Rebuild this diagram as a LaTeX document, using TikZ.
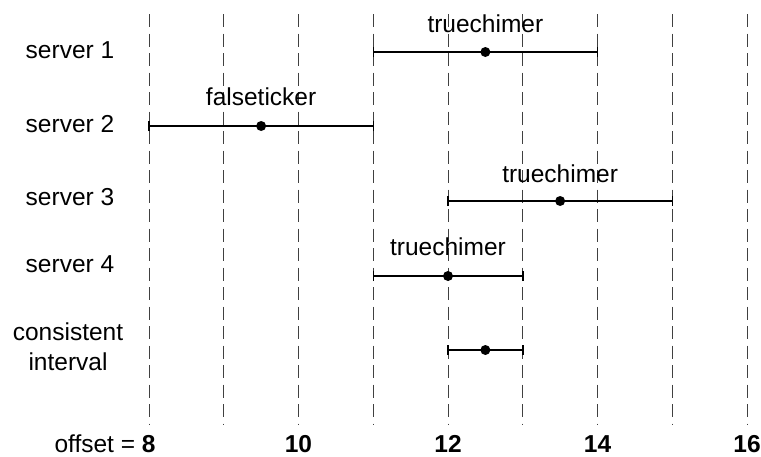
\documentclass[tikz,border=0pt]{standalone}
\usepackage{fontspec}
\setmainfont{Liberation Sans}
\begin{document}
\begin{tikzpicture}[x=1pt,y=-1pt,
  every node/.style={font=\fontsize{24.5}{30}\selectfont, inner sep=0pt},
  gridline/.style={line width=1pt, black!75, dash pattern=on 13pt off 6.5pt},
  interval/.style={line width=2pt, black},
  endtick/.style={line width=1.5pt, black},
  midpoint/.style={circle, fill=black, minimum size=10pt, inner sep=0pt},
  tag/.style={anchor=base},
  rowlabel/.style={anchor=base, align=center},
  ticklabel/.style={anchor=base, font=\fontsize{24.5}{30}\selectfont\bfseries}]
\useasboundingbox (0,0) rectangle (761,456);

% offset axis: one unit = 74.75pt, offset 8 at x = 149
\begin{scope}[x=74.75pt, xshift=-449pt]
  % dashed grid lines at each integer offset
  \foreach \v in {8,...,16} {
    \coordinate (top\v) at (\v,14);
    \coordinate (bot\v) at (\v,425);
    \draw[gridline] (top\v) -- (bot\v);
  }

  % intervals: name, left, right, midpoint, row y
  \foreach \n/\a/\b/\m/\y in {s1/11/14/12.5/52, s2/8/11/9.5/126, s3/12/15/13.5/201,
                              s4/11/13/12/276, ci/12/13/12.5/350} {
    \coordinate (\n a) at (\a,\y);
    \coordinate (\n b) at (\b,\y);
    \draw[interval] (\n a) -- (\n b);
    \draw[endtick] ([yshift=-5pt]\n a) -- ([yshift=5pt]\n a);
    \draw[endtick] ([yshift=-5pt]\n b) -- ([yshift=5pt]\n b);
    \node[midpoint] (\n m) at (\m,\y) {};
  }

  % classification of each server
  \node[tag] (s1t) at ([yshift=20pt]s1m) {truechimer};
  \node[tag] (s2t) at ([yshift=21pt]s2m) {falseticker};
  \node[tag] (s3t) at ([yshift=19pt]s3m) {truechimer};
  \node[tag] (s4t) at ([yshift=21pt]s4m) {truechimer};

  % offset values along the bottom
  \node[ticklabel] (n10) at (10,452) {10};
  \node[ticklabel] (n12) at (12,452) {12};
  \node[ticklabel] (n14) at (14,452) {14};
  \node[ticklabel] (n16) at (16,452) {16};
\end{scope}

\node[anchor=base east] (n8) at (155.8,452) {offset = \textbf{8}};

% row labels
\node[rowlabel] (r1) at (70,58) {server 1};
\node[rowlabel] (r2) at (70,132) {server 2};
\node[rowlabel] (r3) at (70,205) {server 3};
\node[rowlabel] (r4) at (70,272) {server 4};
\node[align=center, anchor=center] (r5) at (68,347) {consistent\\interval};
\end{tikzpicture}
\end{document}
